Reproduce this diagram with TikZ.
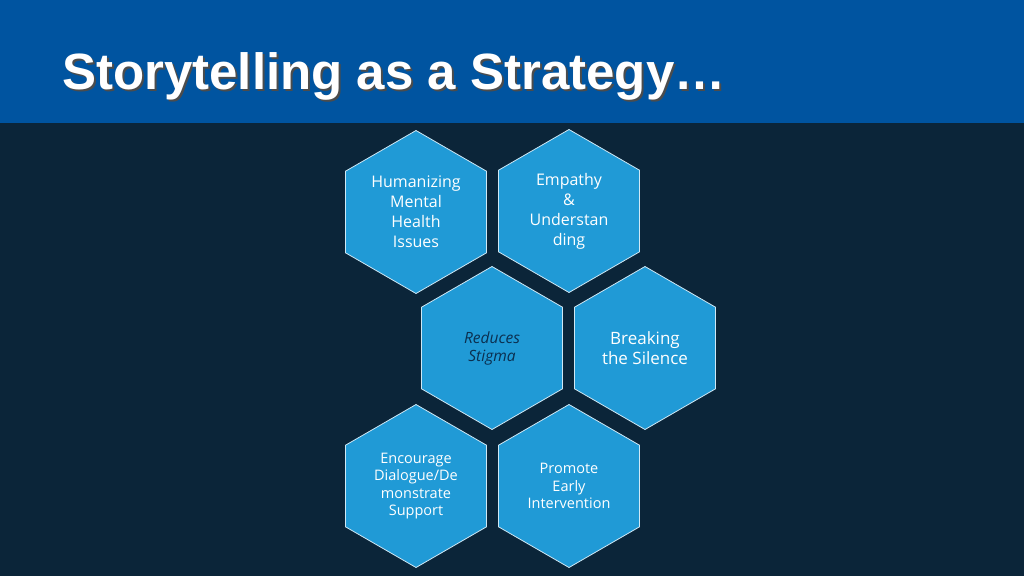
\documentclass[tikz,border=0pt]{standalone}
\usepackage{fontspec}
\setmainfont{Open Sans}
\newfontfamily\titlefont{Liberation Sans}
\usetikzlibrary{shapes.geometric}
\definecolor{bgdark}{HTML}{0B2539}
\definecolor{hdr}{HTML}{0054A0}
\definecolor{hexfill}{HTML}{209AD6}
\definecolor{hexline}{HTML}{CFE8F5}
\definecolor{darktxt}{HTML}{0B2F4F}
\tikzset{
  hexa/.style={regular polygon, regular polygon sides=6, shape border rotate=30,
    minimum size=163pt, inner sep=0pt, fill=hexfill, draw=hexline, line width=0.8pt,
    text=white, align=center, font=\fontsize{16}{20}\selectfont},
}
\begin{document}
\begin{tikzpicture}[x=1pt,y=-1pt]
\useasboundingbox (0,0) rectangle (1024,576);
\fill[bgdark] (0,0) rectangle (1024,576);
\fill[hdr] (0,0) rectangle (1024,123);
\node[anchor=west, inner sep=0pt, text=black!70, font=\titlefont\bfseries\fontsize{51}{56}\selectfont] (tsh) at (64,78) {Storytelling as a Strategy…};
\node[anchor=west, inner sep=0pt, text=white, font=\titlefont\bfseries\fontsize{51}{56}\selectfont] (title) at (62,76) {Storytelling as a Strategy…};
\node[hexa] (h1) at (416,212) {Humanizing\\Mental\\Health\\Issues};
\node[hexa] (h2) at (569,211) {Empathy\\\&\\Understan\\ding};
\node[hexa, text=darktxt, font=\itshape\fontsize{15.5}{18}\selectfont] (h3) at (492,348) {Reduces\\Stigma};
\node[hexa, font=\fontsize{17}{20}\selectfont] (h4) at (645,348) {Breaking\\the Silence};
\node[hexa, font=\fontsize{14.5}{17.5}\selectfont] (h5) at (416,486) {Encourage\\Dialogue/De\\monstrate\\Support};
\node[hexa, font=\fontsize{14.5}{17.5}\selectfont] (h6) at (569,486) {Promote\\Early\\Intervention};
\end{tikzpicture}
\end{document}
